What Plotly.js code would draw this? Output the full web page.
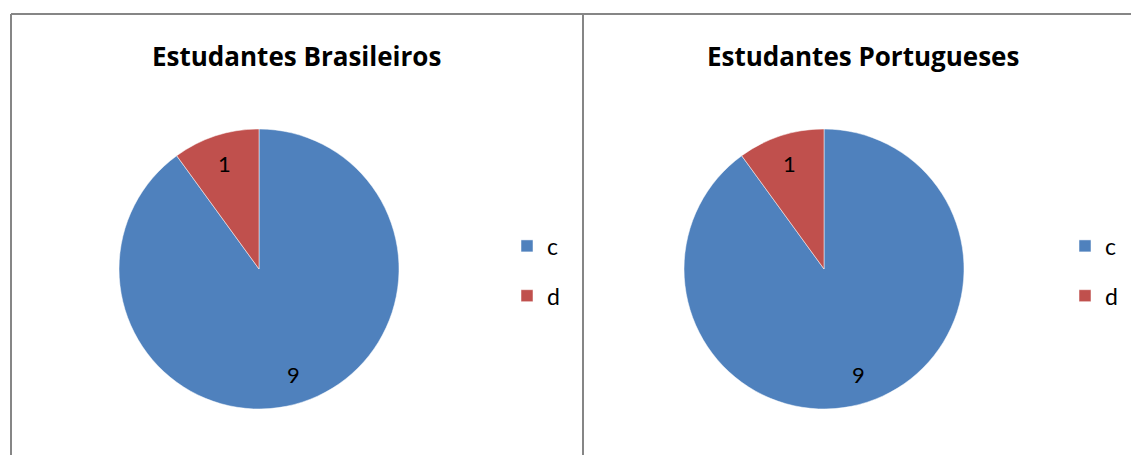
<!DOCTYPE html>
<html><head><meta charset="utf-8">
<script src="https://cdn.plot.ly/plotly-3.0.1.min.js"></script>
<style>html,body{margin:0;padding:0;background:#fff}#chart{width:1131px;height:455px}</style>
</head><body><div id="chart"></div>
<script>
const categories = ['c', 'd'];
const brasileiros = [9, 1];
const portugueses = [9, 1];
const titles = ['Estudantes Brasileiros', 'Estudantes Portugueses'];
const colors = ['#4F81BD', '#C0504D'];

const W = 1131, H = 455;
const FONT = 'Lato, "Open Sans", sans-serif';
const TFONT = '"Open Sans", Lato, sans-serif';
const px = x => x / W, py = y => 1 - y / H;
const CY = 269, R = 140;

function pie(values, cx, legendId, group) {
  return {
    type: 'pie', values: values,
    labels: categories.map(c => '<span style="font-size:23px;baseline-shift:5px">' + c + '</span>'),
    sort: false, direction: 'clockwise', rotation: 0,
    marker: {colors: colors, line: {color: '#ffffff', width: 0.5}},
    textinfo: 'none',
    domain: {x: [px(cx - R), px(cx + R)], y: [py(CY + R), py(CY - R)]},
    legend: legendId, legendgroup: group, hoverinfo: 'label+value'
  };
}

// data labels placed at the mid-angle of each slice (computed from the values)
function valueLabels(values, cx) {
  const total = values.reduce((a, b) => a + b, 0);
  let cum = 0;
  return values.map(v => {
    const mid = (cum + v / 2) / total * 2 * Math.PI; // clockwise from 12 o'clock
    cum += v;
    const rr = 0.79 * R;
    return {text: String(v), x: px(cx + Math.sin(mid) * rr), y: py(CY - Math.cos(mid) * rr),
      xref: 'paper', yref: 'paper', showarrow: false, xanchor: 'center', yanchor: 'middle',
      font: {family: FONT, size: 22, color: '#000'}};
  });
}

const data = [pie(brasileiros, 259, 'legend', 'br'), pie(portugueses, 824, 'legend2', 'pt')];

const legendBase = {font: {family: FONT, size: 36, color: '#000'}, bgcolor: 'rgba(0,0,0,0)',
  xanchor: 'left', yanchor: 'top', itemclick: false, itemdoubleclick: false, tracegroupgap: 0};

const layout = {
  width: W, height: H, margin: {l: 0, r: 0, t: 0, b: 0},
  paper_bgcolor: '#ffffff', plot_bgcolor: '#ffffff',
  showlegend: true,
  legend: Object.assign({}, legendBase, {x: px(507), y: py(216)}),
  legend2: Object.assign({}, legendBase, {x: px(1065), y: py(216)}),
  annotations: [
    {text: '<b>' + titles[0] + '</b>', x: px(296), y: py(56), xref: 'paper', yref: 'paper', showarrow: false,
     xanchor: 'center', yanchor: 'middle', font: {family: TFONT, size: 26, color: '#000'}},
    {text: '<b>' + titles[1] + '</b>', x: px(863), y: py(56), xref: 'paper', yref: 'paper', showarrow: false,
     xanchor: 'center', yanchor: 'middle', font: {family: TFONT, size: 26, color: '#000'}}
  ].concat(valueLabels(brasileiros, 259), valueLabels(portugueses, 824)),
  shapes: [
    {type: 'line', xref: 'paper', yref: 'paper', x0: px(11), x1: px(1131), y0: py(14), y1: py(14), line: {color: '#868686', width: 2}},
    {type: 'line', xref: 'paper', yref: 'paper', x0: px(11), x1: px(11), y0: py(14), y1: 0, line: {color: '#868686', width: 2}},
    {type: 'line', xref: 'paper', yref: 'paper', x0: px(583), x1: px(583), y0: py(14), y1: 0, line: {color: '#868686', width: 2}}
  ]
};

Plotly.newPlot('chart', data, layout, {displayModeBar: false, staticPlot: true});
</script></body></html>
